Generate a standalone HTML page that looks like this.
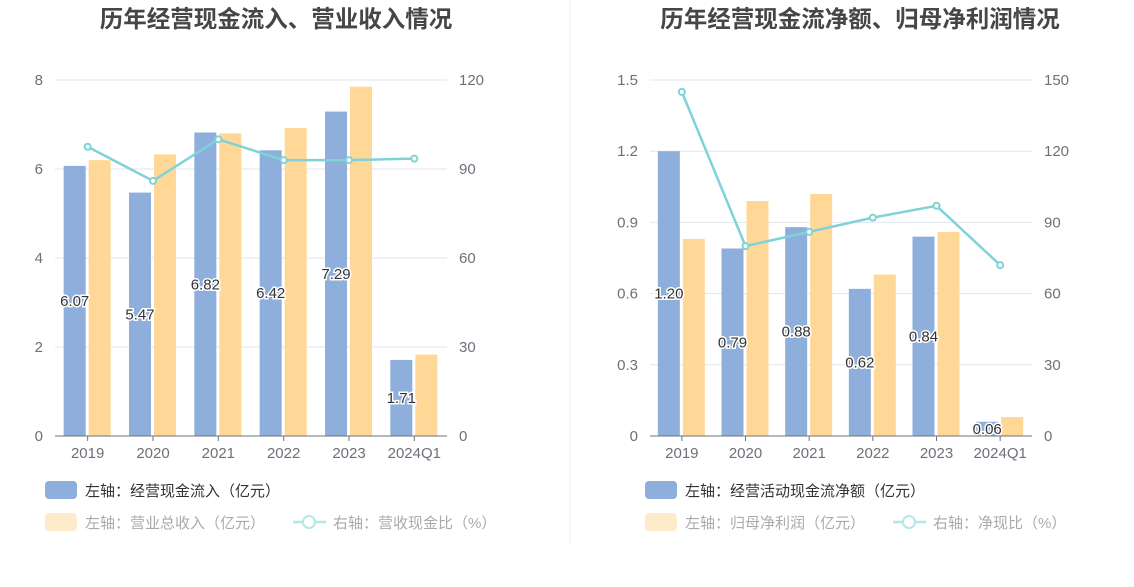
<!DOCTYPE html>
<html><head><meta charset="utf-8"><style>
body{margin:0;background:#fff;font-family:"Liberation Sans","Noto Sans CJK SC",sans-serif}
svg text{font-family:"Liberation Sans","Noto Sans CJK SC",sans-serif}
</style></head><body>
<svg id="s" width="1134" height="582" xmlns="http://www.w3.org/2000/svg">
<line x1="570" y1="0" x2="570" y2="545" stroke="#eef0f4"/>
</svg>
<script>
const cats=["2019","2020","2021","2022","2023","2024Q1"];
const inflow=[6.07,5.47,6.82,6.42,7.29,1.71];
const revenue=[6.2,6.33,6.8,6.92,7.85,1.83];
const ratio1=[97.5,86,100,93,93,93.5];
const netCash=[1.20,0.79,0.88,0.62,0.84,0.06];
const netProfit=[0.83,0.99,1.02,0.68,0.86,0.08];
const ratio2=[145,80,86,92,97,72];
const lt1=[0,2,4,6,8], rt1=[0,30,60,90,120];
const lt2=[0,0.3,0.6,0.9,1.2,1.5], rt2=[0,30,60,90,120,150];
const S=document.getElementById('s'),NS="http://www.w3.org/2000/svg";
function mk(t,a,txt){const e=document.createElementNS(NS,t);for(const k in a)e.setAttribute(k,a[k]);if(txt!=null)e.textContent=txt;S.appendChild(e);return e;}
function chart(o){
 const y0=436,y1=80,x0=o.x0,x1=o.x1,bw=(x1-x0)/cats.length;
 const yl=v=>y0-(v/o.lmax)*(y0-y1), yr=v=>y0-(v/o.rmax)*(y0-y1), xc=i=>x0+bw*(i+0.5);
 let t=mk('text',{x:o.tx,y:27,'text-anchor':'middle','font-size':23.5,'font-weight':'bold',fill:'#464646'},o.title);
 
 o.lt.forEach((v,i)=>{const y=yl(v);
  if(i>0){const g=mk('line',{x1:x0,x2:x1,y1:y,y2:y,stroke:'#e0e6f1'});}
  const a=mk('text',{x:x0-12,y:y+5,'text-anchor':'end','font-size':15,fill:'#6e7079'},String(v));});
 o.rt.forEach(v=>{const a=mk('text',{x:x1+12,y:yr(v)+5,'font-size':15,fill:'#6e7079'},String(v));});
 cats.forEach((c,i)=>{
  const b=mk('rect',{x:xc(i)-24,y:yl(o.b1[i]),width:22,height:y0-yl(o.b1[i]),fill:'#8eaedb'});
  const r=mk('rect',{x:xc(i)+1,y:yl(o.b2[i]),width:22,height:y0-yl(o.b2[i]),fill:'#ffd898'});
  const tk=mk('line',{x1:xc(i),x2:xc(i),y1:y0,y2:y0+5,stroke:'#6e7079'});
  const xl=mk('text',{x:xc(i),y:y0+22,'text-anchor':'middle','font-size':15,fill:'#6e7079'},c);
 });
 const ax=mk('line',{x1:x0,x2:x1,y1:y0,y2:y0,stroke:'#6e7079'});
 const pl=mk('polyline',{points:o.line.map((v,i)=>xc(i)+','+yr(v)).join(' '),fill:'none',stroke:'#7fd3d6','stroke-width':2.5});
 o.line.forEach((v,i)=>{const c=mk('circle',{cx:xc(i),cy:yr(v),r:3,fill:'#fff',stroke:'#7fd3d6','stroke-width':2});});
 cats.forEach((c,i)=>{const v=o.b1[i],y=(yl(v)+y0)/2+5;
  const l=mk('text',{x:xc(i)-13,y:y,'text-anchor':'middle','font-size':15,fill:'#333',stroke:'#fff','stroke-width':3,'paint-order':'stroke'},v.toFixed(2));});
 const lx=o.lx;
 let e=mk('rect',{x:lx,y:481,width:32,height:18,rx:4,fill:'#8eaedb'});
 e=mk('text',{x:lx+40,y:496,'font-size':15,fill:'#333'},o.lg1);
 e=mk('rect',{x:lx,y:513,width:32,height:18,rx:4,fill:'#fdebcc'});
 e=mk('text',{x:lx+40,y:528,'font-size':15,fill:'#aaa'},o.lg2);
 const lx2=lx+o.lg3x;
 e=mk('line',{x1:lx2,x2:lx2+33,y1:522,y2:522,stroke:'#b5e6e8','stroke-width':2.5});
 e=mk('circle',{cx:lx2+16,cy:522,r:6,fill:'#fff',stroke:'#b5e6e8','stroke-width':2});
 e=mk('text',{x:lx2+40,y:528,'font-size':15,fill:'#aaa'},o.lg3);
}
chart({x0:55,x1:447,lx:45,tx:276,lmax:8,rmax:120,lt:lt1,rt:rt1,b1:inflow,b2:revenue,line:ratio1,title:"历年经营现金流入、营业收入情况",lg1:"左轴：经营现金流入（亿元）",lg2:"左轴：营业总收入（亿元）",lg3:"右轴：营收现金比（%）",lg3x:248});
chart({x0:650,x1:1032,lx:645,tx:860,lmax:1.5,rmax:150,lt:lt2,rt:rt2,b1:netCash,b2:netProfit,line:ratio2,title:"历年经营现金流净额、归母净利润情况",lg1:"左轴：经营活动现金流净额（亿元）",lg2:"左轴：归母净利润（亿元）",lg3:"右轴：净现比（%）",lg3x:248});
</script>
</body></html>
